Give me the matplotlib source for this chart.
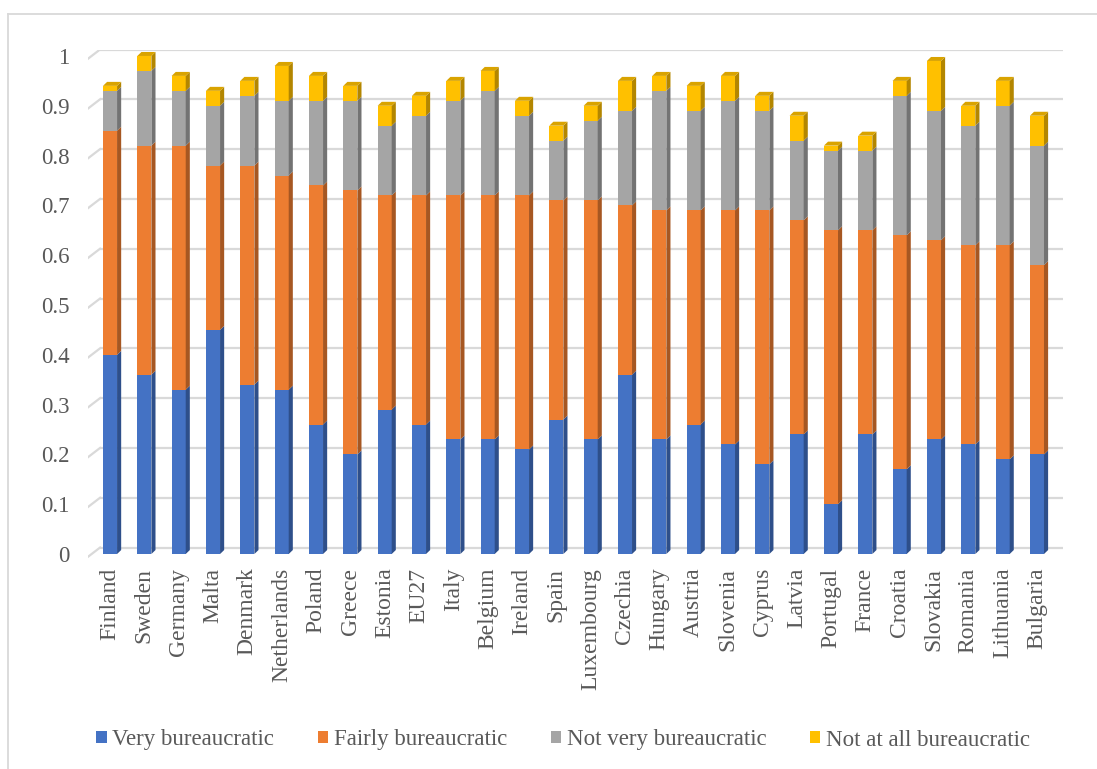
import matplotlib
matplotlib.use("Agg")
import matplotlib.pyplot as plt
from matplotlib.patches import Polygon, Patch
from matplotlib.lines import Line2D
import numpy as np

countries = ["Finland", "Sweden", "Germany", "Malta", "Denmark", "Netherlands", "Poland",
             "Greece", "Estonia", "EU27", "Italy", "Belgium", "Ireland", "Spain",
             "Luxembourg", "Czechia", "Hungary", "Austria", "Slovenia", "Cyprus", "Latvia",
             "Portugal", "France", "Croatia", "Slovakia", "Romania", "Lithuania", "Bulgaria"]
very = [0.40, 0.36, 0.33, 0.45, 0.34, 0.33, 0.26, 0.20, 0.29, 0.26, 0.23, 0.23, 0.21, 0.27,
        0.23, 0.36, 0.23, 0.26, 0.22, 0.18, 0.24, 0.10, 0.24, 0.17, 0.23, 0.22, 0.19, 0.20]
fairly = [0.45, 0.46, 0.49, 0.33, 0.44, 0.43, 0.48, 0.53, 0.43, 0.46, 0.49, 0.49, 0.51, 0.44,
          0.48, 0.34, 0.46, 0.43, 0.47, 0.51, 0.43, 0.55, 0.41, 0.47, 0.40, 0.40, 0.43, 0.38]
not_very = [0.08, 0.15, 0.11, 0.12, 0.14, 0.15, 0.17, 0.18, 0.14, 0.16, 0.19, 0.21, 0.16, 0.12,
            0.16, 0.19, 0.24, 0.20, 0.22, 0.20, 0.16, 0.16, 0.16, 0.28, 0.26, 0.24, 0.28, 0.24]
not_at_all = [0.01, 0.03, 0.03, 0.03, 0.03, 0.07, 0.05, 0.03, 0.04, 0.04, 0.04, 0.04, 0.03, 0.03,
              0.03, 0.06, 0.03, 0.05, 0.05, 0.03, 0.05, 0.01, 0.03, 0.03, 0.10, 0.04, 0.05, 0.06]
series_names = ["Very bureaucratic", "Fairly bureaucratic", "Not very bureaucratic",
                "Not at all bureaucratic"]
y_ticks = [0, 0.1, 0.2, 0.3, 0.4, 0.5, 0.6, 0.7, 0.8, 0.9, 1]
y_tick_labels = ["0", "0.1", "0.2", "0.3", "0.4", "0.5", "0.6", "0.7", "0.8", "0.9", "1"]

front_cols = ["#4472C4", "#ED7D31", "#A5A5A5", "#FFC000"]
side_cols = ["#2E4F8A", "#A65722", "#737373", "#B38600"]
top_cols = ["#3A64AE", "#D06D2A", "#8F8F8F", "#D9A300"]

TEXT = "#595959"
GRID = "#D9D9D9"
FONT = "Liberation Serif"

W, H = 1097, 769
fig = plt.figure(figsize=(W / 100, H / 100), dpi=100)
fig.patch.set_facecolor("white")

left_px, right_px = 87.7, 1062.7
top_px, bot_px = 50, 560
ax = fig.add_axes([left_px / W, 1 - bot_px / H, (right_px - left_px) / W, (bot_px - top_px) / H])
ax.set_xlim(-0.65, 27.75)
ax.set_ylim(-0.012, 1.012)
for s in ax.spines.values():
    s.set_visible(False)

# gridlines with perspective floor edge
gdy = 0.013
for yv in y_ticks:
    ax.plot([-0.29, 27.75], [yv + gdy, yv + gdy], color=GRID, lw=1.6, zorder=0,
            solid_capstyle="butt")
    ax.plot([-0.65, -0.29], [yv - 0.006, yv + gdy], color=GRID, lw=1.6, zorder=0)

x = np.arange(len(countries))
w = 0.41
dx = 0.12
dy = 0.008
series = [very, fairly, not_very, not_at_all]
bottom = np.zeros(len(countries))
for k, vals in enumerate(series):
    vals = np.array(vals)
    ax.bar(x, vals, width=w, bottom=bottom, color=front_cols[k], zorder=3, linewidth=0)
    for i in range(len(x)):
        b = bottom[i]
        t = b + vals[i]
        xr = x[i] + w / 2
        ax.add_patch(Polygon([(xr, b), (xr + dx, b + dy), (xr + dx, t + dy), (xr, t)],
                             closed=True, facecolor=side_cols[k], edgecolor="none", zorder=3))
    bottom = bottom + vals

# top faces
for i in range(len(x)):
    T = bottom[i]
    xl = x[i] - w / 2
    xr = x[i] + w / 2
    ax.add_patch(Polygon([(xl, T), (xl + dx, T + dy), (xr + dx, T + dy), (xr, T)],
                         closed=True, facecolor=top_cols[3], edgecolor="none", zorder=4))

ax.set_xticks(x)
ax.set_xticklabels(countries, rotation=90, fontsize=17, color=TEXT, family=FONT)
ax.set_yticks(y_ticks)
ax.set_yticklabels(y_tick_labels, fontsize=16.5, color=TEXT, family=FONT)
ax.tick_params(axis="x", length=0, pad=5.5)
ax.tick_params(axis="y", length=0, pad=13)

handles = [Patch(facecolor=c, edgecolor="none") for c in front_cols]
fig.legend(handles, series_names, loc="center", bbox_to_anchor=(563 / W, 1 - 740 / H),
           ncol=4, frameon=False, handlelength=0.45, handleheight=0.45, handletextpad=0.25,
           columnspacing=1.9, prop={"family": FONT, "size": 16.5}, labelcolor=TEXT)

# outer chart border (left and top edges visible)
fig.add_artist(Line2D([8 / W, 8 / W], [0, 1 - 14 / H], transform=fig.transFigure,
                      color=GRID, lw=1.3))
fig.add_artist(Line2D([8 / W, 1], [1 - 14 / H, 1 - 14 / H], transform=fig.transFigure,
                      color=GRID, lw=1.3))

fig.savefig("out.png", dpi=100, facecolor="white")
